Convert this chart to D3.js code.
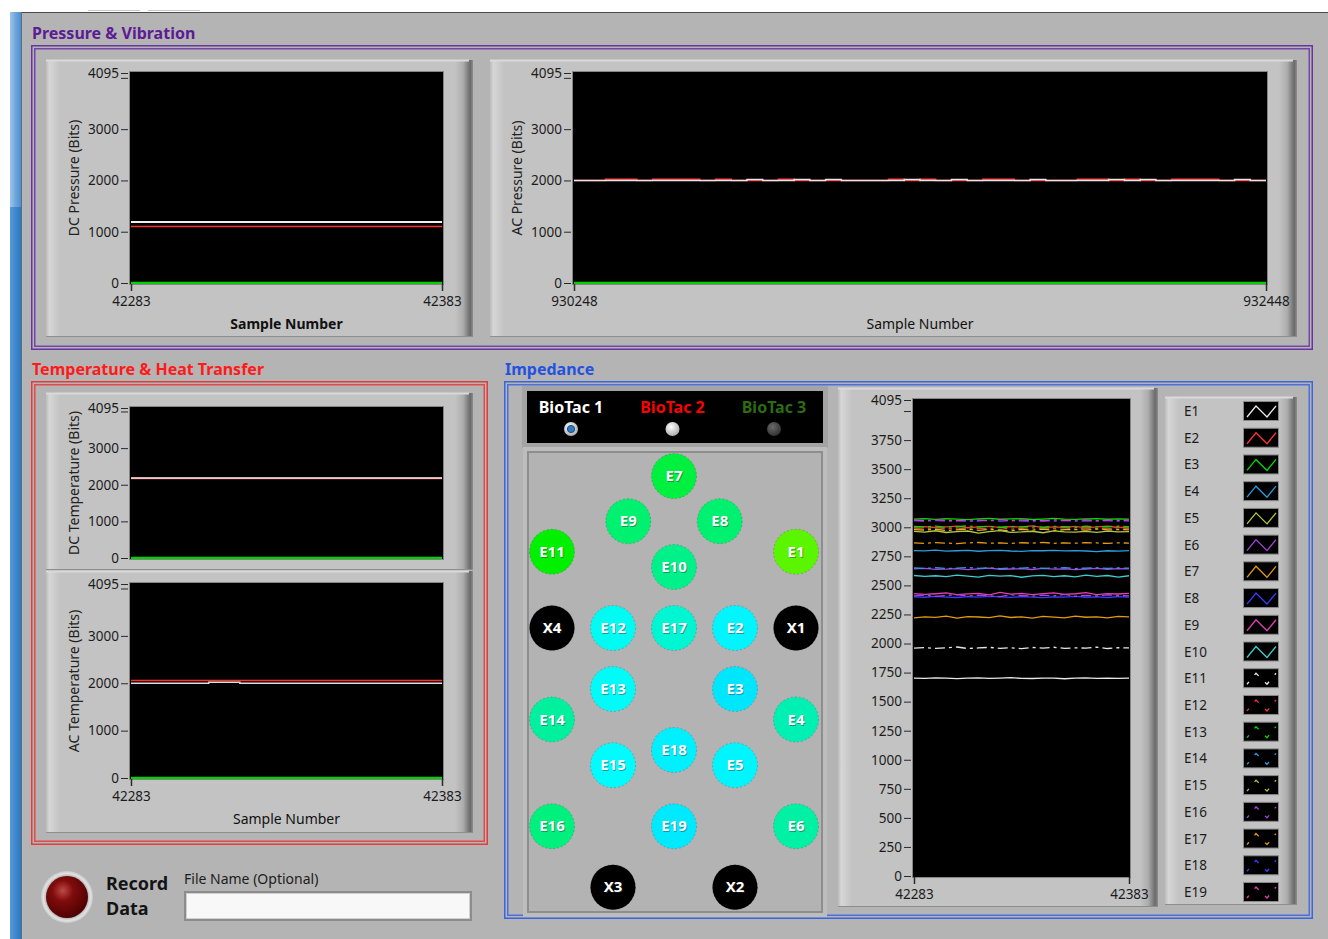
<!DOCTYPE html>
<html>
<head>
<meta charset="utf-8">
<script src="https://cdn.jsdelivr.net/npm/d3@7"></script>
<style>
  body { margin: 0; background: #b4b4b4; }
  svg { display: block; font-family: "Noto Sans", sans-serif; }
</style>
</head>
<body>
<div id="vi"></div>
<script>
// ---------- data ----------
var sampleRange = [42283, 42383];
var acSampleRange = [930248, 932448];
var bitTicks = [0, 1000, 2000, 3000, 4000, 4095];
var impTicks = [0, 250, 500, 750, 1000, 1250, 1500, 1750, 2000, 2250, 2500, 2750, 3000, 3250, 3500, 3750, 4000, 4095];

// pressure & vibration
var dcPressureWhite = [1190, 1190];
var dcPressureRed = [1100, 1100];
var dcPressureGreen = [0, 0];
var acPressureWhite = [2000, 2000, 2000, 2000, 2000, 2000, 2000, 2000, 2000, 2000, 2000, 2020, 2000, 2000, 2020, 2000, 2020, 2000, 2000, 2000,
  2000, 2020, 2000, 2000, 2020, 2000, 2000, 2000, 2000, 2020, 2000, 2000, 2000, 2000, 2020, 2000, 2020, 2000, 2000, 2000, 2000, 2000, 2020, 2000, 2000];
var acPressureRed = [2000, 2000, 2025, 2025, 2000, 2025, 2025, 2025, 2000, 2025, 2000, 2000, 2000, 2025, 2000, 2000, 2000, 2000, 2000, 2000,
  2025, 2000, 2025, 2000, 2000, 2000, 2025, 2025, 2000, 2000, 2000, 2000, 2025, 2025, 2000, 2025, 2000, 2000, 2025, 2025, 2025, 2000, 2000, 2000, 2000];
var acPressureGreen = [0, 0];

// temperature & heat transfer
var dcTempWhite = [2185, 2185];
var dcTempRed = [2168, 2168];
var dcTempGreen = [0, 0];
var acTempWhite = [2000, 2000, 2000, 2000, 2000, 2022, 2022, 2000, 2000, 2000, 2000, 2000, 2000, 2000, 2000, 2000, 2000, 2000, 2000, 2000, 2000];
var acTempRed = [2058, 2058];
var acTempGreen = [0, 0];

// impedance, one value every 5 samples
var electrodeNames = ["E1","E2","E3","E4","E5","E6","E7","E8","E9","E10","E11","E12","E13","E14","E15","E16","E17","E18","E19"];
var impedance = [
  [1703,1700,1705,1702,1698,1703,1704,1700,1702,1706,1701,1699,1703,1702,1697,1703,1705,1700,1702,1701,1703],
  [3000,3006,2998,3004,3010,2996,3003,3008,2999,3005,3001,3012,2997,3004,3000,3007,2995,3003,3009,2998,3002],
  [3070,3074,3068,3075,3071,3066,3073,3077,3069,3072,3074,3067,3071,3076,3070,3068,3073,3075,3069,3072,3071],
  [2800,2797,2803,2795,2798,2801,2794,2799,2802,2796,2793,2800,2798,2801,2797,2799,2796,2790,2798,2795,2800],
  [2965,2958,2970,2955,2962,2968,2950,2963,2972,2957,2960,2966,2953,2969,2961,2958,2964,2956,2967,2960,2963],
  [2642,2646,2638,2640,2645,2636,2643,2648,2639,2641,2644,2637,2646,2640,2643,2635,2641,2647,2639,2644,2642],
  [2220,2230,2225,2236,2218,2232,2228,2222,2238,2224,2230,2219,2234,2227,2221,2235,2226,2230,2220,2233,2229],
  [2402,2398,2405,2400,2396,2403,2399,2406,2401,2397,2404,2400,2395,2402,2399,2405,2398,2401,2396,2403,2400],
  [2430,2422,2428,2435,2420,2427,2432,2418,2440,2425,2431,2421,2429,2436,2423,2428,2438,2420,2430,2426,2432],
  [2585,2578,2583,2575,2588,2580,2572,2586,2579,2584,2570,2582,2587,2576,2583,2574,2589,2578,2585,2572,2583],
  [1960,1965,1958,1963,1970,1957,1962,1967,1959,1964,1956,1966,1961,1968,1958,1963,1960,1969,1957,1964,1962],
  [2992,2984,2998,2986,2995,2980,2993,2988,2999,2983,2991,2996,2985,2990,2997,2982,2994,2987,2992,2985,2990],
  [3008,3002,3010,3000,3006,3012,3003,3009,2998,3007,3004,3011,3001,3008,3005,2999,3010,3003,3006,3009,3004],
  [2650,2646,2652,2645,2649,2653,2647,2651,2644,2650,2648,2654,2646,2650,2652,2645,2649,2651,2647,2650,2648],
  [2980,2975,2983,2972,2978,2985,2974,2981,2977,2970,2982,2976,2984,2973,2979,2981,2975,2986,2977,2980,2978],
  [2410,2418,2405,2414,2420,2408,2416,2411,2404,2419,2413,2407,2417,2410,2422,2406,2415,2409,2418,2412,2410],
  [2865,2862,2868,2864,2860,2866,2869,2863,2865,2861,2867,2864,2870,2862,2866,2863,2868,2865,2861,2866,2864],
  [3055,3050,3058,3052,3056,3049,3054,3059,3051,3057,3053,3048,3056,3052,3058,3050,3055,3053,3057,3051,3054],
  [3062,3058,3064,3060,3057,3063,3061,3059,3065,3058,3062,3060,3056,3064,3059,3061,3063,3057,3062,3060,3061]
];
var plotColors = ["#e8e8e8","#ff3333","#00dd00","#2a9ee0","#b8c83a","#a845e0","#e39a10","#3a3cff","#e43fb0","#3ccfcf"];

// sensor map: grid column / row of every site, and its impedance colour
var siteNames = ["E7","E9","E8","E11","E1","E10","X4","E12","E17","E2","X1","E13","E3","E14","E4","E18","E15","E5","E16","E19","E6","X3","X2"];
var siteCol  = [2, 1.25, 2.75, 0, 4, 2, 0, 1, 2, 3, 4, 1, 3, 0, 4, 2, 1, 3, 0, 2, 4, 1, 3];
var siteRow  = [-2.49, -1.75, -1.75, -1.25, -1.25, -1.0, 0, 0, 0, 0, 0, 1, 1, 1.5, 1.5, 2, 2.25, 2.25, 3.25, 3.25, 3.25, 4.25, 4.25];
var siteColors = ["#00f040","#00f070","#00f070","#00f000","#5cf500","#00f08a","#000000","#00fbf2","#00f5d2","#00f5ff","#000000",
  "#00fbf8","#00e6ff","#00f09e","#00f0b4","#00f0ff","#00fcff","#00f6ff","#00f07e","#00eaff","#00f0a4","#000000","#000000"];

var biotacNames = ["BioTac 1", "BioTac 2", "BioTac 3"];

// ---------- page ----------
var svg = d3.select("#vi").append("svg")
  .attr("width", 1328)
  .attr("height", 939);

var defs = svg.append("defs");
function linGrad(id, x2, y2, stops) {
  var gr = defs.append("linearGradient").attr("id", id)
    .attr("x1", 0).attr("y1", 0).attr("x2", x2).attr("y2", y2);
  stops.forEach(function(s) {
    gr.append("stop").attr("offset", s[0]).attr("stop-color", s[1]);
  });
}
linGrad("bevelL", 1, 0, [[0, "#bcbcbc"], [0.25, "#d6d6d6"], [1, "#c3c3c3"]]);
linGrad("bevelR", 1, 0, [[0, "#c3c3c3"], [0.45, "#adadad"], [0.85, "#6a6a6a"], [1, "#8e8e8e"]]);
linGrad("stripe", 1, 0, [[0, "#9cc4ea"], [0.5, "#6ea6dc"], [1, "#4d8ecf"]]);
linGrad("stripeLow", 1, 0, [[0, "#5a9ad6"], [0.5, "#3d88cc"], [1, "#2f78bd"]]);
var led = defs.append("radialGradient").attr("id", "led").attr("cx", 0.4).attr("cy", 0.35).attr("r", 0.7);
led.append("stop").attr("offset", 0).attr("stop-color", "#c04848");
led.append("stop").attr("offset", 0.35).attr("stop-color", "#800c0c");
led.append("stop").attr("offset", 1).attr("stop-color", "#4a0000");
var bezel = defs.append("radialGradient").attr("id", "bezel").attr("cx", 0.5).attr("cy", 0.5).attr("r", 0.5);
bezel.append("stop").attr("offset", 0.75).attr("stop-color", "#9a9a9a");
bezel.append("stop").attr("offset", 0.9).attr("stop-color", "#e2e2e2");
bezel.append("stop").attr("offset", 1).attr("stop-color", "#c8c8c8");
var rWhite = defs.append("radialGradient").attr("id", "rWhite").attr("cx", 0.4).attr("cy", 0.35).attr("r", 0.7);
rWhite.append("stop").attr("offset", 0).attr("stop-color", "#ffffff");
rWhite.append("stop").attr("offset", 1).attr("stop-color", "#a8a8a8");
var rDark = defs.append("radialGradient").attr("id", "rDark").attr("cx", 0.4).attr("cy", 0.35).attr("r", 0.7);
rDark.append("stop").attr("offset", 0).attr("stop-color", "#6a6a6a");
rDark.append("stop").attr("offset", 1).attr("stop-color", "#2e2e2e");

// window chrome
svg.append("rect").attr("width", 1328).attr("height", 939).attr("fill", "#b4b4b4");
svg.append("rect").attr("width", 1328).attr("height", 12).attr("fill", "#ffffff");
svg.append("rect").attr("width", 10).attr("height", 939).attr("fill", "#ffffff");
svg.append("line").attr("x1", 10).attr("x2", 1328).attr("y1", 12.5).attr("y2", 12.5).attr("stroke", "#4a4a4a");
[[88, 140], [148, 200]].forEach(function(t) {
  svg.append("line").attr("x1", t[0]).attr("x2", t[1]).attr("y1", 10.5).attr("y2", 10.5).attr("stroke", "#c8c8c8");
});
svg.append("rect").attr("x", 10).attr("y", 12).attr("width", 11).attr("height", 195).attr("fill", "url(#stripe)");
svg.append("rect").attr("x", 10).attr("y", 207).attr("width", 11).attr("height", 732).attr("fill", "url(#stripeLow)");
svg.append("line").attr("x1", 21.5).attr("x2", 21.5).attr("y1", 12).attr("y2", 939).attr("stroke", "#5a6f86");

// decoration groups
function groupBox(x, y, w, h, color, title, titleColor) {
  svg.append("rect").attr("x", x + 0.75).attr("y", y + 0.75).attr("width", w - 1.5).attr("height", h - 1.5)
    .attr("fill", "none").attr("stroke", color).attr("stroke-width", 1.5);
  svg.append("rect").attr("x", x + 3.75).attr("y", y + 3.75).attr("width", w - 7.5).attr("height", h - 7.5)
    .attr("fill", "none").attr("stroke", color).attr("stroke-width", 1.5).attr("stroke-opacity", 0.85);
  svg.append("text").attr("x", x + 1).attr("y", y - 6).text(title)
    .attr("font-size", 16).attr("font-weight", "bold").attr("fill", titleColor);
}
groupBox(31, 45, 1282, 305, "#6a32a4", "Pressure & Vibration", "#5c1c94");
groupBox(31, 381, 457, 464, "#e83a3a", "Temperature & Heat Transfer", "#ff1a1a");
groupBox(504, 381, 809, 538, "#3a64e0", "Impedance", "#2452e0");

function panel(x, y, w, h) {
  svg.append("rect").attr("x", x).attr("y", y).attr("width", w).attr("height", h).attr("fill", "#c3c3c3");
  svg.append("rect").attr("x", x).attr("y", y).attr("width", 14).attr("height", h).attr("fill", "url(#bevelL)");
  svg.append("rect").attr("x", x + w - 18).attr("y", y).attr("width", 18).attr("height", h).attr("fill", "url(#bevelR)");
  svg.append("line").attr("x1", x).attr("x2", x + w - 4).attr("y1", y + 0.5).attr("y2", y + 0.5).attr("stroke", "#d9d9d9").attr("stroke-width", 2);
  svg.append("line").attr("x1", x).attr("x2", x + w).attr("y1", y + h - 0.5).attr("y2", y + h - 0.5).attr("stroke", "#8e8e8e");
}

function pointsOf(values, domain) {
  var step = (domain[1] - domain[0]) / (values.length - 1);
  return values.map(function(v, i) { return [domain[0] + i * step, v]; });
}

function chart(cfg) {
  var x = d3.scaleLinear().domain(cfg.domain).range([cfg.left + 1, cfg.right - 1]);
  var y = d3.scaleLinear().domain([0, 4095]).range([cfg.bottom, cfg.top]);

  svg.append("rect").attr("x", cfg.left - 0.5).attr("y", cfg.top - 1.5)
    .attr("width", cfg.right - cfg.left + 1).attr("height", cfg.bottom - cfg.top + 3)
    .attr("fill", "#000").attr("stroke", "#858585");

  var ya = svg.append("g").attr("transform", "translate(" + (cfg.left - 2) + ",0)")
    .call(d3.axisLeft(y).tickValues(cfg.ticks).tickSize(7).tickPadding(2)
      .tickFormat(function(d) { return d === 4000 ? "" : d; }));
  ya.select(".domain").remove();
  ya.selectAll("line").attr("stroke", "#2a2a2a");
  ya.selectAll("text").attr("fill", "#1c1c1c").attr("font-size", 13.5).attr("font-family", "Noto Sans");

  if (cfg.xAxis) {
    var xa = svg.append("g").attr("transform", "translate(0," + (cfg.bottom + 1) + ")")
      .call(d3.axisBottom(x).tickValues(cfg.domain).tickSize(7).tickPadding(5).tickFormat(d3.format("d")));
    xa.select(".domain").remove();
    xa.selectAll("line").attr("stroke", "#2a2a2a").attr("stroke-width", 1.5);
    xa.selectAll("text").attr("fill", "#1c1c1c").attr("font-size", 13.5).attr("font-family", "Noto Sans");
  }

  if (cfg.yLabel) {
    svg.append("text").attr("transform", "translate(" + cfg.yLabelX + "," + ((cfg.top + cfg.bottom) / 2) + ") rotate(-90)")
      .attr("text-anchor", "middle").attr("font-size", 14).attr("fill", "#222").text(cfg.yLabel);
  }
  if (cfg.xLabel) {
    svg.append("text").attr("x", (cfg.left + cfg.right) / 2).attr("y", cfg.xLabelY)
      .attr("text-anchor", "middle").attr("font-size", 14).attr("fill", "#111")
      .attr("font-weight", cfg.xLabelBold ? "bold" : "normal").text(cfg.xLabel);
  }

  var clipId = "clip" + cfg.left + "_" + cfg.top;
  defs.append("clipPath").attr("id", clipId).append("rect")
    .attr("x", cfg.left).attr("y", cfg.top - 2).attr("width", cfg.right - cfg.left).attr("height", cfg.bottom - cfg.top + 3);
  var plot = svg.append("g").attr("clip-path", "url(#" + clipId + ")");

  cfg.series.forEach(function(s) {
    var line = d3.line()
      .x(function(d) { return x(d[0]); })
      .y(function(d) { return y(d[1]); })
      .curve(s.step ? d3.curveStepAfter : d3.curveLinear);
    plot.append("path").attr("d", line(pointsOf(s.values, cfg.domain)))
      .attr("fill", "none").attr("stroke", s.color).attr("stroke-width", s.width || 1.5)
      .attr("stroke-dasharray", s.dash || null);
  });
  return { x: x, y: y };
}

// ---------- pressure & vibration ----------
panel(46, 60, 427, 277);
chart({
  left: 130, right: 443, top: 73, bottom: 283, domain: sampleRange, ticks: bitTicks, xAxis: true,
  yLabel: "DC Pressure (Bits)", yLabelX: 79, xLabel: "Sample Number", xLabelBold: true, xLabelY: 329,
  series: [
    { values: dcPressureWhite, color: "#f0f0f0", width: 2 },
    { values: dcPressureRed, color: "#ff3030", width: 1.5 },
    { values: dcPressureGreen, color: "#00d000", width: 2.5 }
  ]
});

panel(490, 60, 807, 277);
chart({
  left: 573, right: 1267, top: 73, bottom: 283, domain: acSampleRange, ticks: bitTicks, xAxis: true,
  yLabel: "AC Pressure (Bits)", yLabelX: 522, xLabel: "Sample Number", xLabelBold: false, xLabelY: 329,
  series: [
    { values: acPressureRed, color: "#ff3a3a", width: 1.5, step: true },
    { values: acPressureWhite, color: "#e6e6e6", width: 1.5, step: true },
    { values: acPressureGreen, color: "#00d000", width: 2.5 }
  ]
});

// ---------- temperature ----------
panel(46, 393, 427, 177);
chart({
  left: 130, right: 443, top: 408, bottom: 558, domain: sampleRange, ticks: bitTicks, xAxis: false,
  yLabel: "DC Temperature  (Bits)", yLabelX: 79,
  series: [
    { values: dcTempRed, color: "#ff4040", width: 1.5 },
    { values: dcTempWhite, color: "#f2f2f2", width: 1.5 },
    { values: dcTempGreen, color: "#00d000", width: 2.5 }
  ]
});

panel(46, 571, 427, 262);
chart({
  left: 130, right: 443, top: 584, bottom: 778, domain: sampleRange, ticks: bitTicks, xAxis: true,
  yLabel: "AC Temperature (Bits)", yLabelX: 79, xLabel: "Sample Number", xLabelBold: false, xLabelY: 824,
  series: [
    { values: acTempRed, color: "#ff3030", width: 1.5 },
    { values: acTempWhite, color: "#dcdcdc", width: 1.5, step: true },
    { values: acTempGreen, color: "#00d000", width: 2.5 }
  ]
});

// ---------- record controls ----------
svg.append("circle").attr("cx", 67).attr("cy", 897).attr("r", 26).attr("fill", "url(#bezel)");
svg.append("circle").attr("cx", 67).attr("cy", 897).attr("r", 21).attr("fill", "url(#led)");
svg.append("text").attr("x", 106).attr("y", 890).attr("font-size", 18).attr("font-weight", "bold").attr("fill", "#141414").text("Record");
svg.append("text").attr("x", 106).attr("y", 915).attr("font-size", 18).attr("font-weight", "bold").attr("fill", "#141414").text("Data");
svg.append("text").attr("x", 184).attr("y", 884).attr("font-size", 14).attr("fill", "#1c1c1c").text("File Name (Optional)");
svg.append("rect").attr("x", 184).attr("y", 891).attr("width", 288).attr("height", 30).attr("fill", "#8c8c8c");
svg.append("rect").attr("x", 186.5).attr("y", 893.5).attr("width", 283).attr("height", 25).attr("fill", "#f8f8f8")
  .attr("stroke", "#d0d0d0");

// ---------- impedance: BioTac selector ----------
svg.append("rect").attr("x", 522).attr("y", 386).attr("width", 306).attr("height", 62).attr("fill", "#a4a4a4");
svg.append("rect").attr("x", 527).attr("y", 391).attr("width", 296).attr("height", 52).attr("fill", "#000");
var btX = d3.scalePoint().domain(biotacNames).range([571, 774]);
var btColors = ["#ffffff", "#ff0000", "#2c6c12"];
biotacNames.forEach(function(n, i) {
  svg.append("text").attr("x", btX(n)).attr("y", 413).attr("text-anchor", "middle")
    .attr("font-size", 16).attr("font-weight", "bold").attr("fill", btColors[i]).text(n);
});
svg.append("circle").attr("cx", btX(biotacNames[0])).attr("cy", 429).attr("r", 7).attr("fill", "url(#rWhite)");
svg.append("circle").attr("cx", btX(biotacNames[0])).attr("cy", 429).attr("r", 3.6).attr("fill", "#2f7cc4").attr("stroke", "#1b4f82");
svg.append("circle").attr("cx", btX(biotacNames[1])).attr("cy", 429).attr("r", 7).attr("fill", "url(#rWhite)");
svg.append("circle").attr("cx", btX(biotacNames[2])).attr("cy", 429).attr("r", 7).attr("fill", "url(#rDark)");

// sensor map
svg.append("rect").attr("x", 523).attr("y", 447).attr("width", 304).attr("height", 470).attr("fill", "#bdbdbd");
svg.append("rect").attr("x", 528).attr("y", 452).attr("width", 294).attr("height", 460).attr("fill", "#b3b3b3")
  .attr("stroke", "#8e8e8e").attr("stroke-width", 2);
var colScale = d3.scaleLinear().domain([0, 4]).range([552, 796]);
var rowScale = d3.scaleLinear().domain([0, 4]).range([628, 872]);
siteNames.forEach(function(n, i) {
  var cx = colScale(siteCol[i]), cy = rowScale(siteRow[i]);
  svg.append("circle").attr("cx", cx).attr("cy", cy).attr("r", 22.5).attr("fill", siteColors[i])
    .attr("stroke", "rgba(0,0,0,0.18)").attr("stroke-dasharray", "2,2");
  svg.append("text").attr("x", cx + 1).attr("y", cy + 6).attr("text-anchor", "middle")
    .attr("font-size", 15).attr("font-weight", "bold").attr("fill", "#333").attr("opacity", 0.45).text(n);
  svg.append("text").attr("x", cx).attr("y", cy + 5).attr("text-anchor", "middle")
    .attr("font-size", 15).attr("font-weight", "bold").attr("fill", "#fff").text(n);
});

// impedance chart
panel(838, 388, 320, 519);
var impSeries = impedance.map(function(vals, i) {
  return {
    values: vals,
    color: plotColors[i % 10],
    width: 1.3,
    dash: i >= 10 ? "10,4,3,4" : null
  };
});
chart({
  left: 913, right: 1130, top: 400, bottom: 876, domain: sampleRange, ticks: impTicks, xAxis: true,
  series: impSeries
});

// legend
panel(1165, 397, 132, 508);
var legY = d3.scalePoint().domain(electrodeNames).range([411, 892]);
electrodeNames.forEach(function(n, i) {
  var cy = legY(n);
  svg.append("text").attr("x", 1184).attr("y", cy + 5).attr("font-size", 13.5).attr("fill", "#1c1c1c").text(n);
  svg.append("rect").attr("x", 1243.5).attr("y", cy - 9.5).attr("width", 35).attr("height", 19)
    .attr("fill", "#000").attr("stroke", "#8a8a8a");
  var zig = [[1247, cy + 6], [1256, cy - 5], [1267, cy + 6], [1276, cy - 5]];
  svg.append("path").attr("d", d3.line()(zig)).attr("fill", "none")
    .attr("stroke", plotColors[i % 10]).attr("stroke-width", 1.3)
    .attr("stroke-dasharray", i >= 10 ? "3,9,6,9,6,9,3" : null);
});
</script>
</body>
</html>
